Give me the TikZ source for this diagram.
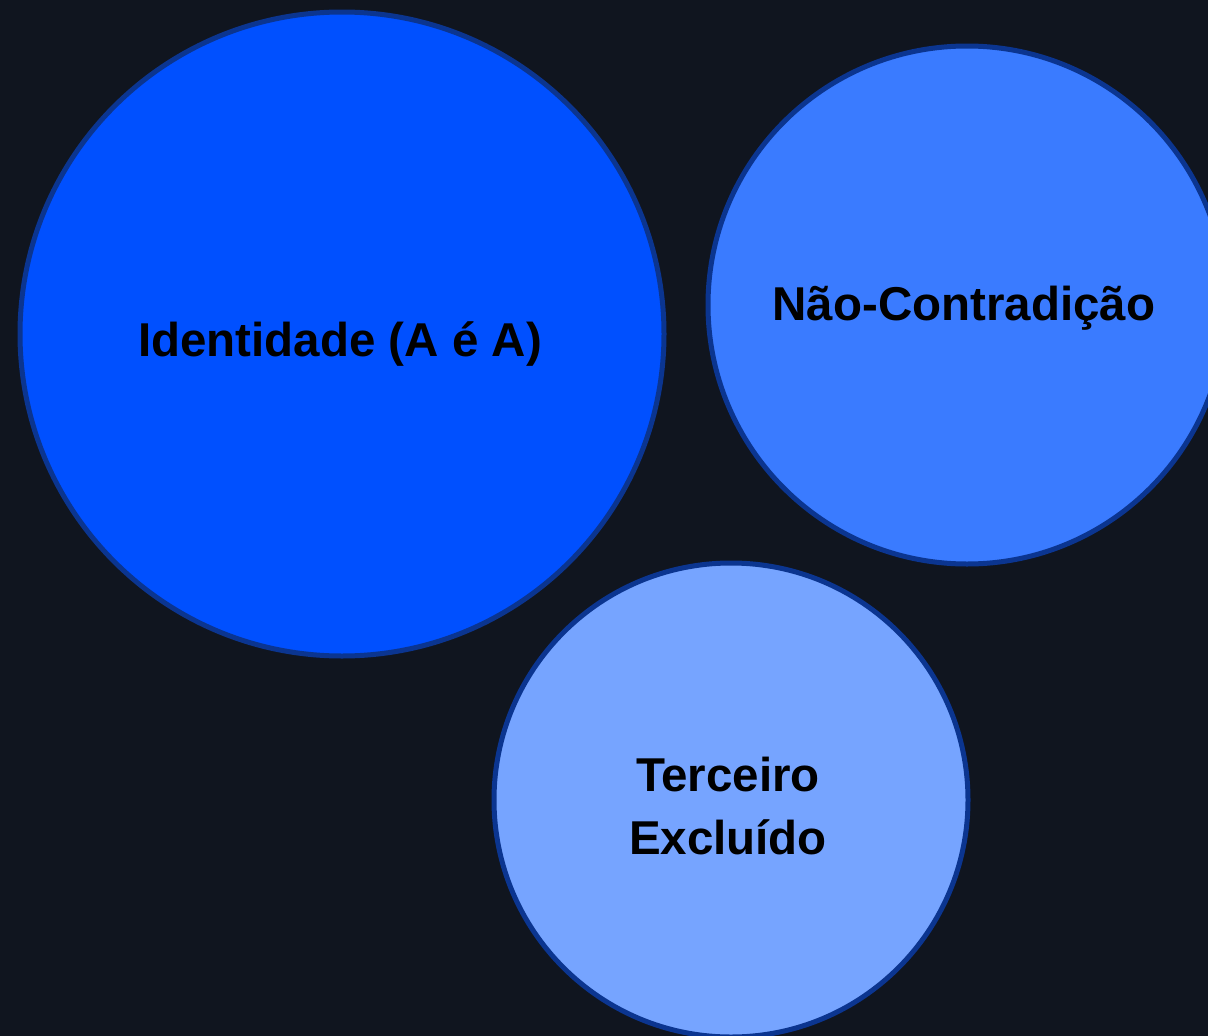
\documentclass[tikz,border=0pt]{standalone}
\usepackage{fontspec}
\setmainfont{Liberation Sans}
\definecolor{bg}{HTML}{10151F}
\definecolor{rim}{HTML}{0B3590}
\definecolor{cA}{HTML}{0050FF}
\definecolor{cB}{HTML}{3A7BFF}
\definecolor{cC}{HTML}{76A4FF}
\begin{document}
\begin{tikzpicture}[x=1pt,y=-1pt,
  bubble/.style={circle,draw=rim,line width=5pt,inner sep=0pt},
  lbl/.style={font=\fontsize{47.5}{63}\selectfont\bfseries,text=black,anchor=base,inner sep=0pt}]
\path[use as bounding box,fill=bg] (0,0) rectangle (1208,1036);
\begin{scope}
\clip (0,0) rectangle (1208,1036);
\node[bubble,fill=cA,minimum size=644pt] (c1) at (342,334) {};
\node[bubble,fill=cB,minimum size=518pt] (c2) at (967,305) {};
\node[bubble,fill=cC,minimum size=474pt] (c3) at (731,800) {};
\end{scope}
\node[lbl] (t1) at (340,356) {Identidade (A é A)};
\node[lbl] (t2) at (964,320) {Não-Contradição};
\node[lbl] (t3a) at (728,791) {Terceiro};
\node[lbl] (t3b) at (728,854) {Excluído};
\end{tikzpicture}
\end{document}
